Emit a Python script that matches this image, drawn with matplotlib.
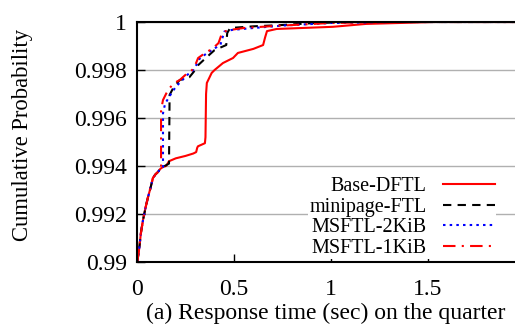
import matplotlib
matplotlib.use('Agg')
import matplotlib.pyplot as plt

# Base-DFTL
x_base = [0.003, 0.005, 0.012, 0.02, 0.031, 0.045, 0.057, 0.07, 0.082, 0.095, 0.108, 0.12, 0.134,
          0.15, 0.165, 0.2, 0.25, 0.29, 0.305, 0.31, 0.314, 0.35, 0.353, 0.356, 0.36, 0.385, 0.40,
          0.443, 0.495, 0.52, 0.6, 0.65, 0.66, 0.67, 0.72, 0.85, 1.01, 1.18, 1.4, 1.52, 1.95]
y_base = [0.9900, 0.9902, 0.9906, 0.9912, 0.99175, 0.9923, 0.99271, 0.9931, 0.9935, 0.99365, 0.99375, 0.99388, 0.99396,
          0.9940, 0.9942, 0.99432, 0.99442, 0.99452, 0.99458, 0.99475, 0.99482, 0.99495, 0.9952, 0.9970, 0.99746, 0.99788, 0.998,
          0.99829, 0.9985, 0.99871, 0.99888, 0.99904, 0.99935, 0.99962, 0.99971, 0.99975, 0.9998, 0.99992, 0.99997, 1.0, 1.0]

# minipage-FTL
x_mini = [0.003, 0.005, 0.012, 0.02, 0.031, 0.045, 0.057, 0.07, 0.082, 0.095, 0.108, 0.12, 0.134,
          0.165, 0.168, 0.19, 0.22, 0.27, 0.3, 0.315, 0.36, 0.40, 0.46, 0.465, 0.48, 0.6, 0.74, 0.9, 1.1, 1.95]
y_mini = [0.9900, 0.9902, 0.9906, 0.9912, 0.99175, 0.9923, 0.99271, 0.9931, 0.9935, 0.99365, 0.99375, 0.99388, 0.99396,
          0.9941, 0.99696, 0.9973, 0.99758, 0.9977, 0.998, 0.9982, 0.99854, 0.99883, 0.99904, 0.99954, 0.99975, 0.99982, 0.99987, 0.99995, 1.0, 1.0]

# MSFTL-2KiB
x_2k = [0.003, 0.005, 0.012, 0.02, 0.031, 0.045, 0.057, 0.07, 0.082, 0.095, 0.108, 0.12, 0.134,
        0.134, 0.145, 0.175, 0.2, 0.23, 0.26, 0.29, 0.305, 0.32, 0.36, 0.4, 0.43, 0.45, 0.49, 0.6, 0.75, 1.0, 1.3, 1.95]
y_2k = [0.9900, 0.9902, 0.9906, 0.9912, 0.99175, 0.9923, 0.99271, 0.9931, 0.9935, 0.99365, 0.99375, 0.99388, 0.99396,
        0.9962, 0.9966, 0.997, 0.9973, 0.99755, 0.9978, 0.998, 0.9982, 0.99845, 0.9987, 0.9989, 0.99905, 0.9996, 0.99967, 0.99975, 0.99985, 0.99996, 1.0, 1.0]

# MSFTL-1KiB
x_1k = [0.003, 0.005, 0.012, 0.02, 0.031, 0.045, 0.057, 0.07, 0.082, 0.095, 0.108, 0.12, 0.124,
        0.124, 0.134, 0.16, 0.19, 0.22, 0.25, 0.284, 0.3, 0.315, 0.35, 0.39, 0.42, 0.44, 0.48, 0.55, 0.7, 1.0, 1.3, 1.95]
y_1k = [0.9900, 0.9902, 0.9906, 0.9912, 0.99175, 0.9923, 0.99271, 0.9931, 0.9935, 0.99365, 0.99375, 0.99388, 0.9939,
        0.99633, 0.99675, 0.99717, 0.99745, 0.99758, 0.9978, 0.998, 0.9982, 0.9985, 0.9987, 0.9989, 0.99912, 0.99958, 0.99967, 0.99975, 0.99983, 0.99996, 1.0, 1.0]

plt.rcParams['font.family'] = ['Liberation Serif', 'DejaVu Serif']

fig = plt.figure(figsize=(5.15, 3.29), dpi=100)
ax = fig.add_axes([137/515, 1 - 262/329, 1 - 137/515, (262 - 22)/329])

ax.plot(x_base, y_base, color='#ff0000', lw=1.5, label='Base-DFTL')
ax.plot(x_mini, y_mini, color='black', lw=1.5, ls=(0, (4, 3)), label='minipage-FTL')
ax.plot(x_2k, y_2k, color='#0000ff', lw=1.5, ls=(0, (1.2, 2)), label='MSFTL-2KiB')
ax.plot(x_1k, y_1k, color='#ff0000', lw=1.5, ls=(0, (6, 3, 1, 3)), label='MSFTL-1KiB')

ax.set_xlim(0, 378/194)
ax.set_ylim(0.99, 1.0)
ax.set_xticks([0, 0.5, 1, 1.5])
ax.set_xticklabels(['0', '0.5', '1', '1.5'])
ax.set_yticks([0.99, 0.992, 0.994, 0.996, 0.998, 1.0])
ax.set_yticklabels(['0.99', '0.992', '0.994', '0.996', '0.998', '1'])
ax.tick_params(direction='in', length=6, width=1, labelsize=17)
ax.tick_params(axis='y', pad=7)
ax.tick_params(axis='x', pad=12)
ax.yaxis.grid(True, color='#b0b0b0', lw=1)
ax.set_axisbelow(True)
ax.spines['right'].set_visible(False)
for s in ['left', 'bottom', 'top']:
    ax.spines[s].set_linewidth(1.5)

ax.set_ylabel('Cumulative Probability', fontsize=16.3)
ax.yaxis.set_label_coords(-0.275, 0.53)
ax.set_xlabel('(a) Response time (sec) on the quarter', fontsize=17, labelpad=2)

leg = ax.legend(loc='lower right', bbox_to_anchor=(0.95, 0.012), markerfirst=False, fontsize=14.5,
                frameon=True, fancybox=False, edgecolor='none', facecolor='white', framealpha=1,
                handlelength=2.6, labelspacing=0.08, borderpad=0.05, handletextpad=0.8,
                borderaxespad=0)

plt.savefig('out.png', dpi=100)
